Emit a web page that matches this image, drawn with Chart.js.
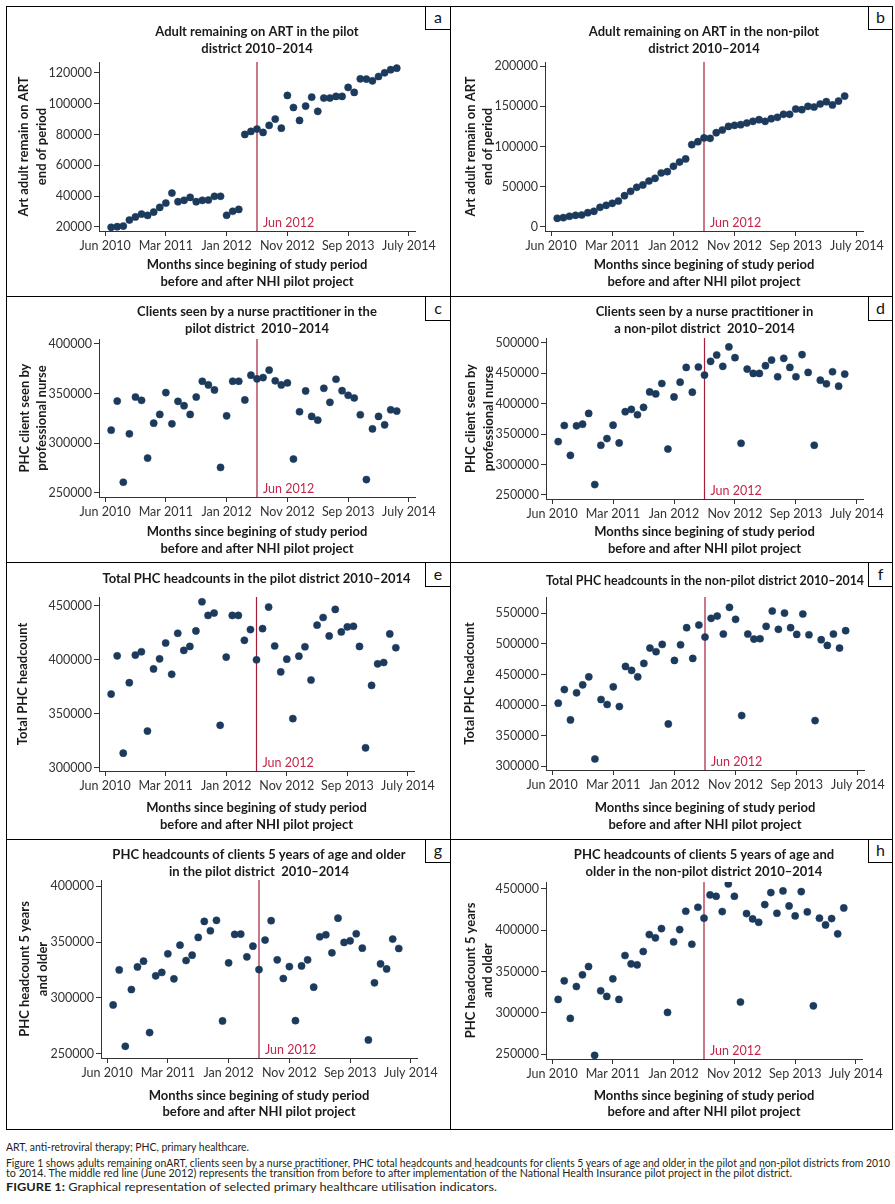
<!DOCTYPE html>
<html>
<head>
<meta charset="utf-8">
<title>Figure 1</title>
<script src="https://cdn.jsdelivr.net/npm/chart.js@4.4.1/dist/chart.umd.min.js"></script>
<style>
  body { margin: 0; background: #fff; }
  #fig { position: relative; width: 895px; height: 1204px; overflow: hidden; }
  #fig canvas { position: absolute; }
  .ln { position: absolute; background: #000; }
  .frame { position: absolute; box-sizing: border-box; border: 1px solid #000; }
  .tag { position: absolute; box-sizing: border-box; border: 1px solid #000; background: #fff;
         font: 16px Lato, sans-serif; color: #111; text-align: center; }
  .note { position: absolute; left: 6px; font: 11px Lato, sans-serif; color: #231f20;
          white-space: nowrap; line-height: 11px; transform-origin: 0 50%; }
  .figcap { position: absolute; left: 6px; font: 12px Lato, sans-serif; color: #231f20;
            white-space: nowrap; line-height: 14px; transform-origin: 0 50%; }
</style>
</head>
<body>
<div id="fig">
  <div class="frame" style="left:6px;top:6px;width:887px;height:1124px"></div>
  <div class="ln" style="left:450px;top:6px;width:1px;height:1124px"></div>
  <div class="ln" style="left:6px;top:296px;width:887px;height:1px"></div>
  <div class="ln" style="left:6px;top:562px;width:887px;height:1px"></div>
  <div class="ln" style="left:6px;top:839px;width:887px;height:1px"></div>

  <div class="note" id="n1" style="top:1141px">ART, anti-retroviral therapy; PHC, primary healthcare.</div>
  <div class="note" id="n2" style="top:1157px">Figure 1 shows adults remaining onART, clients seen by a nurse practitioner, PHC total headcounts and headcounts for clients 5 years of age and older in the pilot and non-pilot districts from 2010</div>
  <div class="note" id="n3" style="top:1167px">to 2014. The middle red line (June 2012) represents the transition from before to after implementation of the National Health Insurance pilot project in the pilot district.</div>
  <div class="figcap" id="n4" style="top:1180px"><b>FIGURE 1:</b> Graphical representation of selected primary healthcare utilisation indicators.</div>
</div>

<script>
// months since start of the series (Jun 2010 = 0)
var months = [1, 2, 3, 4, 5, 6, 7, 8, 9, 10, 11, 12, 13, 14, 15, 16, 17, 18, 19, 20, 21, 22, 23, 24,
              25, 26, 27, 28, 29, 30, 31, 32, 33, 34, 35, 36, 37, 38, 39, 40, 41, 42, 43, 44, 45, 46, 47, 48];

var xTickPos = [0, 10, 20, 30, 40, 50];
var xTickLabels = ['Jun 2010', 'Mar 2011', 'Jan 2012', 'Nov 2012', 'Sep 2013', 'July 2014'];

var pilotMonth = 25;
var pilotLabel = 'Jun 2012';

// a - adults remaining on ART, pilot
var artPilot = [19800, 20200, 20600, 24500, 26500, 28400, 27500, 29700, 32700, 35500,
                42000, 36400, 37300, 39200, 36400, 37300, 37500, 39900, 39900, 27600,
                30200, 31400, 80000, 82000, 83500, 81300, 85900, 90000, 84100, 105300,
                97500, 89100, 98400, 104200, 95000, 103600, 103600, 104700, 104700, 110500,
                107300, 116100, 115900, 114800, 117600, 120000, 122000, 123000];
// b - adults remaining on ART, non-pilot
var artNonPilot = [10800, 11600, 13300, 14500, 14900, 17800, 19500, 24400, 26900, 29400,
                   32300, 38900, 44300, 49300, 52200, 57100, 60500, 67100, 68700, 75400,
                   80700, 84500, 102300, 106000, 110600, 110100, 117200, 120500, 125000, 126300,
                   127100, 129200, 131300, 133300, 131300, 134600, 136200, 140000, 140000, 146600,
                   145800, 149900, 149100, 152800, 155700, 151600, 156500, 162700];
// c - seen by nurse, pilot
var nursePilot = [313000, 342400, 260500, 309300, 346500, 343100, 284900, 320100, 328900, 350900,
                  319400, 342100, 337700, 328900, 346500, 362400, 358700, 353600, 275400, 327500,
                  362400, 362400, 343500, 368500, 364800, 366100, 373600, 362800, 358700, 360700,
                  283900, 331600, 352600, 326900, 323100, 355300, 341100, 364400, 352900, 348200,
                  345500, 328600, 263200, 314300, 326900, 318400, 333600, 332300];
// d - seen by nurse, non-pilot
var nurseNonPilot = [337700, 364200, 315100, 363700, 366400, 384100, 267100, 331700, 342700, 364800,
                     335500, 386900, 390700, 381900, 394000, 419400, 416100, 433200, 325600, 411100,
                     435400, 459700, 418900, 460300, 447000, 469600, 480100, 461400, 493400, 475700,
                     335000, 456900, 449800, 449800, 462500, 471800, 444300, 474600, 459700, 444300,
                     480700, 451400, 331700, 438700, 432700, 452500, 428800, 448700];
// e - total headcount, pilot
var totalPilot = [368200, 403600, 313400, 378700, 404300, 407400, 333900, 391500, 400800, 415500,
                  386500, 424500, 408600, 412300, 426700, 453700, 441000, 443200, 339200, 402400,
                  441000, 441000, 418000, 427900, 399900, 428800, 448800, 412700, 388700, 400500,
                  345400, 403300, 412000, 381200, 432000, 439100, 422000, 446600, 425700, 430400,
                  431000, 412300, 318400, 376200, 396200, 397400, 423900, 411100];
// f - total headcount, non-pilot
var totalNonPilot = [403200, 425500, 375900, 420100, 433200, 446300, 312000, 409200, 401000, 429900,
                     397700, 463200, 456700, 446300, 468100, 493200, 487200, 499200, 369300, 473000,
                     498700, 526500, 476300, 530900, 511200, 541800, 545600, 516200, 559800, 540200,
                     383000, 516200, 508000, 508500, 528700, 553800, 523800, 550500, 526500, 515600,
                     548900, 515000, 374800, 506900, 497600, 516200, 493200, 521600];
// g - 5 years and older, pilot
var over5Pilot = [293700, 325100, 256600, 307500, 327800, 332900, 268900, 319800, 322800, 339500,
                  317100, 347300, 333500, 338300, 354200, 368600, 360200, 369500, 279300, 331400,
                  356900, 357200, 336800, 346400, 325400, 351800, 369200, 334100, 317400, 328100,
                  279600, 328700, 334100, 309600, 354800, 356600, 340400, 371500, 349700, 351200,
                  357500, 344600, 262300, 313500, 330500, 326000, 352700, 344300];
// h - 5 years and older, non-pilot
var over5NonPilot = [316300, 338800, 293400, 331900, 346000, 356000, 248800, 326700, 319900, 341200,
                     316300, 369300, 359200, 358000, 374100, 394600, 390600, 401800, 300600, 385700,
                     400600, 422700, 382900, 427500, 414300, 442400, 440800, 422300, 455600, 440800,
                     313100, 419900, 413500, 409400, 430700, 445200, 420300, 447200, 429100, 417100,
                     446400, 421900, 308600, 414300, 406200, 413900, 395400, 426700];

// y tick values
var ticksA = [20000, 40000, 60000, 80000, 100000, 120000];
var ticksB = [0, 50000, 100000, 150000, 200000];
var ticksC = [250000, 300000, 350000, 400000];
var ticksD = [250000, 300000, 350000, 400000, 450000, 500000];
var ticksE = [300000, 350000, 400000, 450000];
var ticksF = [300000, 350000, 400000, 450000, 500000, 550000];
var ticksG = [250000, 300000, 350000, 400000];
var ticksH = [250000, 300000, 350000, 400000, 450000];

var xTitle = ['Months since begining of study period', 'before and after NHI pilot project'];

// colores / fuentes
var DOT = '#1c3b5c';
var RED_LINE = '#a61e38';
var RED_TEXT = '#c4264a';
var INK = '#1a1a1a';
var TITLE_SIZE = 13;
var AXIS_TITLE_SIZE = 13;
var TICK_SIZE = 12.5;
var TITLE_LH = 16.7;
var XTITLE_LH = 16.7;
var YTITLE_LH = 17.5;

Chart.defaults.font.family = 'Lato, sans-serif';
Chart.defaults.color = '#333';

var panels = [
  { id: 'a', values: artPilot, yTicks: ticksA, yMin: 17400, yMax: 127000,
    title: ['Adult remaining on ART in the pilot', 'district 2010\u20132014'],
    yTitle: ['Art adult remain on ART', 'end of period'],
    cell: [7, 7, 443, 289], plot: [99, 415, 62, 231], titleY: 32, xTitleY: 281.7, yTitleX: 24 },
  { id: 'b', values: artNonPilot, yTicks: ticksB, yMin: -5000, yMax: 205000,
    title: ['Adult remaining on ART in the non-pilot', 'district 2010\u20132014'],
    yTitle: ['Art adult remain on ART', 'end of period'],
    cell: [451, 7, 441, 289], plot: [545, 863, 62, 231], titleY: 32, xTitleY: 281.7, yTitleX: 470.5 },
  { id: 'c', values: nursePilot, yTicks: ticksC, yMin: 245600, yMax: 405000,
    title: ['Clients seen by a nurse practitioner in the', 'pilot district  2010\u20132014'],
    yTitle: ['PHC client seen by', 'professional nurse'],
    cell: [7, 297, 443, 265], plot: [99, 415, 339, 497], titleY: 311.7, xTitleY: 549, yTitleX: 24.5 },
  { id: 'd', values: nurseNonPilot, yTicks: ticksD, yMin: 243400, yMax: 508000,
    title: ['Clients seen by a nurse practitioner in', 'a non-pilot district  2010\u20132014'],
    yTitle: ['PHC client seen by', 'professional nurse'],
    cell: [451, 297, 441, 265], plot: [546, 863, 338, 499], titleY: 311.7, xTitleY: 549, yTitleX: 471 },
  { id: 'e', values: totalPilot, yTicks: ticksE, yMin: 296900, yMax: 458100,
    title: 'Total PHC headcounts in the pilot district 2010\u20132014',
    yTitle: 'Total PHC headcount',
    cell: [7, 563, 443, 276], plot: [99, 414, 597, 771], titleY: 579, xTitleY: 825, yTitleX: 22.7 },
  { id: 'f', values: totalNonPilot, yTicks: ticksF, yMin: 294000, yMax: 576700,
    title: 'Total PHC headcounts in the non-pilot district 2010\u20132014',
    yTitle: 'Total PHC headcount',
    cell: [451, 563, 441, 276], plot: [546, 864, 597, 770], titleY: 580.7, xTitleY: 825, yTitleX: 470 },
  { id: 'g', values: over5Pilot, yTicks: ticksG, yMin: 246100, yMax: 405700,
    title: ['PHC headcounts of clients 5 years of age and older', 'in the pilot district  2010\u20132014'],
    yTitle: ['PHC headcount 5 years', 'and older'],
    cell: [7, 840, 443, 289], plot: [101, 417, 880, 1058], titleY: 855, xTitleY: 1112.3, yTitleX: 25 },
  { id: 'h', values: over5NonPilot, yTicks: ticksH, yMin: 244400, yMax: 458000,
    title: ['PHC headcounts of clients 5 years of age and', 'older in the non-pilot district 2010\u20132014'],
    yTitle: ['PHC headcount 5 years', 'and older'],
    cell: [451, 840, 441, 289], plot: [546, 862, 882, 1059], titleY: 855, xTitleY: 1112.3, yTitleX: 470.5 }
];

// "Jun 2012" label next to the red line
var pilotLabelPlugin = {
  id: 'pilotLabel',
  afterDatasetsDraw: function (chart) {
    var ctx = chart.ctx;
    var x = chart.scales.x.getPixelForValue(pilotMonth);
    ctx.save();
    ctx.font = TICK_SIZE + 'px Lato, sans-serif';
    ctx.fillStyle = RED_TEXT;
    ctx.textBaseline = 'middle';
    ctx.textAlign = 'left';
    ctx.fillText(pilotLabel, x + 6, chart.chartArea.bottom - 8);
    ctx.restore();
  }
};

var fig = document.getElementById('fig');

panels.forEach(function (p) {
  var cx = p.cell[0], cy = p.cell[1], cw = p.cell[2], ch = p.cell[3];
  var pl = p.plot[0], pr = p.plot[1], pt = p.plot[2], pb = p.plot[3];

  var canvas = document.createElement('canvas');
  canvas.width = cw;
  canvas.height = ch;
  canvas.style.left = cx + 'px';
  canvas.style.top = cy + 'px';
  canvas.style.width = cw + 'px';
  canvas.style.height = ch + 'px';
  fig.insertBefore(canvas, fig.firstChild);

  var nTitle = Array.isArray(p.title) ? p.title.length : 1;
  var titlePadTop = p.titleY - cy - TITLE_LH / 2;
  var titlePadBottom = (pt - cy) - titlePadTop - nTitle * TITLE_LH;
  var xTitlePad = (cy + ch) - p.xTitleY - XTITLE_LH / 2;
  var yTitlePad = p.yTitleX - cx - YTITLE_LH / 2;
  var tickLH = TICK_SIZE * 1.2;

  var points = months.map(function (m, i) { return { x: m, y: p.values[i] }; });

  new Chart(canvas.getContext('2d'), {
    type: 'scatter',
    data: {
      datasets: [{
        data: points,
        backgroundColor: DOT,
        borderColor: DOT,
        borderWidth: 0.5,
        pointRadius: 3.6,
        order: 0
      }, {
        data: [{ x: pilotMonth, y: p.yMin }, { x: pilotMonth, y: p.yMax }],
        showLine: true,
        borderColor: RED_LINE,
        borderWidth: 1.2,
        pointRadius: 0,
        order: 1
      }]
    },
    options: {
      responsive: false,
      animation: false,
      devicePixelRatio: 1,
      layout: { padding: { left: 0, top: 0, bottom: 0, right: cw - (pr - cx) } },
      plugins: {
        legend: { display: false },
        tooltip: { enabled: false },
        title: {
          display: true,
          text: p.title,
          fullSize: false,
          color: INK,
          font: { size: TITLE_SIZE, weight: 'bold', lineHeight: TITLE_LH / TITLE_SIZE },
          padding: { top: titlePadTop, bottom: titlePadBottom }
        }
      },
      scales: {
        x: {
          type: 'linear',
          min: -1,
          max: 51,
          afterBuildTicks: function (axis) {
            axis.ticks = xTickPos.map(function (v) { return { value: v }; });
          },
          afterFit: function (axis) { axis.height = cy + ch - pb; },
          ticks: {
            autoSkip: false,
            maxRotation: 0,
            padding: 15.3 - 5 - tickLH / 2,
            color: '#333',
            font: { size: TICK_SIZE, lineHeight: 1.2 },
            callback: function (v, i) { return xTickLabels[i]; }
          },
          grid: { drawOnChartArea: false, drawTicks: true, tickLength: 5, color: '#333' },
          border: { display: true, color: '#333', width: 1 },
          title: {
            display: true,
            text: xTitle,
            color: INK,
            font: { size: AXIS_TITLE_SIZE, weight: 'bold', lineHeight: XTITLE_LH / AXIS_TITLE_SIZE },
            padding: { top: 0, bottom: xTitlePad }
          }
        },
        y: {
          type: 'linear',
          min: p.yMin,
          max: p.yMax,
          afterBuildTicks: function (axis) {
            axis.ticks = p.yTicks.map(function (v) { return { value: v }; });
          },
          afterFit: function (axis) { axis.width = pl - cx; },
          ticks: {
            padding: 2,
            color: '#333',
            font: { size: TICK_SIZE },
            callback: function (v) { return String(v); }
          },
          grid: { drawOnChartArea: false, drawTicks: true, tickLength: 5, color: '#333' },
          border: { display: true, color: '#333', width: 1 },
          title: {
            display: true,
            text: p.yTitle,
            color: INK,
            font: { size: AXIS_TITLE_SIZE, weight: 'bold', lineHeight: YTITLE_LH / AXIS_TITLE_SIZE },
            padding: { top: yTitlePad, bottom: 0 }
          }
        }
      }
    },
    plugins: [pilotLabelPlugin]
  });

  // caja con la letra del panel
  var tag = document.createElement('div');
  tag.className = 'tag';
  tag.textContent = p.id;
  var tagH = (p.id === 'a' || p.id === 'b' || p.id === 'g' || p.id === 'h') ? 24 : 25;
  var tagLeft = cx < 400 ? 425 : 868;
  var tagW = cx < 400 ? 26 : 25;
  tag.style.left = tagLeft + 'px';
  tag.style.top = (cy - 1) + 'px';
  tag.style.width = tagW + 'px';
  tag.style.height = tagH + 'px';
  tag.style.lineHeight = (tagH - 4) + 'px';
  fig.appendChild(tag);
});

// notas al pie: ancho igual al de la figura original (letra condensada)
var noteWidths = { n1: 243, n2: 884, n3: 786, n4: 491 };
Object.keys(noteWidths).forEach(function (id) {
  var el = document.getElementById(id);
  var w = el.getBoundingClientRect().width;
  el.style.transform = 'scaleX(' + (noteWidths[id] / w) + ')';
});
</script>
</body>
</html>
